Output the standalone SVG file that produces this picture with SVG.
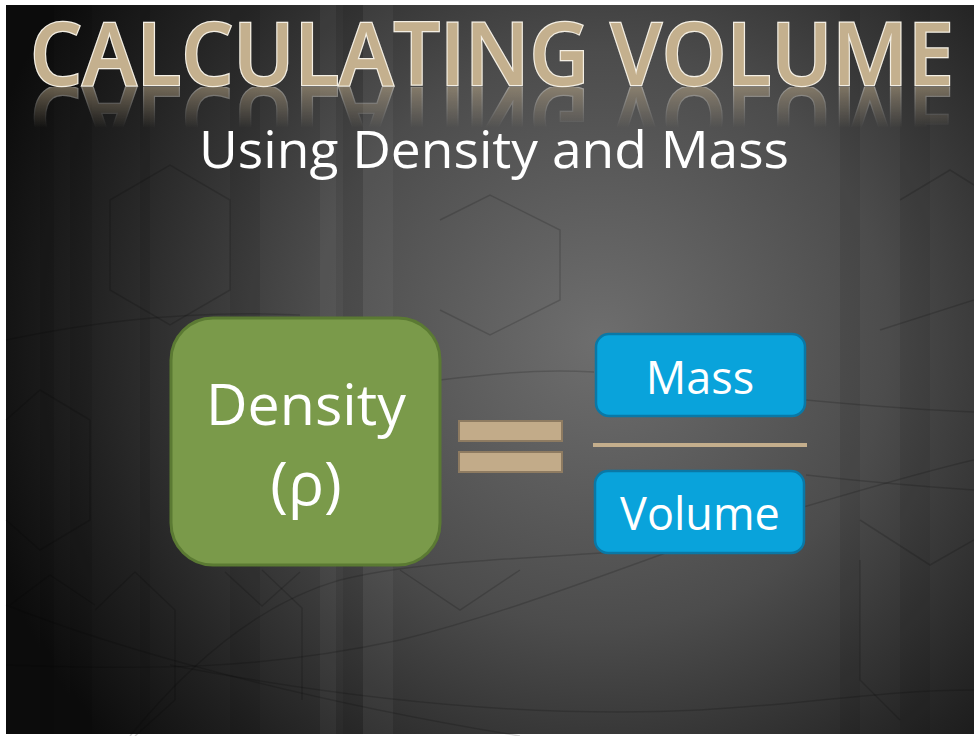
<svg xmlns="http://www.w3.org/2000/svg" width="974" height="736" viewBox="0 0 974 736">
<defs>
<radialGradient id="bg" cx="600" cy="340" r="640" gradientUnits="userSpaceOnUse">
<stop offset="0" stop-color="#6e6e6e"/>
<stop offset="0.45" stop-color="#4c4c4c"/>
<stop offset="0.8" stop-color="#222"/>
<stop offset="1" stop-color="#0c0c0c"/>
</radialGradient>
<linearGradient id="refl" x1="0" y1="86" x2="0" y2="128" gradientUnits="userSpaceOnUse">
<stop offset="0" stop-color="#fff" stop-opacity="0.5"/>
<stop offset="1" stop-color="#fff" stop-opacity="0"/>
</linearGradient>
<mask id="rm"><rect x="0" y="87" width="974" height="42" fill="url(#refl)"/></mask>
<style>
.deco{fill:none;stroke:#000;stroke-opacity:0.16;stroke-width:1.5}
.stripe{fill:#000;opacity:0.08}
.title{font-family:"Open Sans","Liberation Sans",sans-serif;font-weight:600;font-size:86px;fill:#c4b08e;stroke:#f4efe4;stroke-width:2.5;paint-order:stroke}
.w{font-family:"Open Sans","Liberation Sans",sans-serif;fill:#fff;text-anchor:middle}
.bar{fill:#c2ab89;stroke:#8e7b61;stroke-width:2}
.blue{fill:#09a3db;stroke:#0a78a6;stroke-width:2.5}
</style>
</defs>
<rect x="0" y="0" width="974" height="736" fill="#fff"/>
<g id="background">
<rect x="6" y="5" width="968" height="729" fill="url(#bg)"/>
<rect class="stripe" x="40" y="5" width="14" height="729"/>
<rect class="stripe" x="70" y="5" width="22" height="729"/>
<rect class="stripe" x="140" y="5" width="10" height="729"/>
<rect class="stripe" x="230" y="5" width="30" height="729"/>
<rect x="320" y="5" width="16" height="729" fill="#fff" opacity="0.04"/>
<rect x="343" y="5" width="20" height="729" fill="#000" opacity="0.07"/>
<rect x="363" y="5" width="30" height="729" fill="#fff" opacity="0.04"/>
<rect class="stripe" x="840" y="5" width="20" height="729"/>
<rect class="stripe" x="900" y="5" width="30" height="729"/>
<path class="deco" d="M10 605 L50 575 L95 605"/>
<path class="deco" d="M95 610 L135 572 L175 610 L175 700 L135 736"/>
<path class="deco" d="M225 572 L262 606 L300 572"/>
<path class="deco" d="M262 570 L302 608 L302 700"/>
<path class="deco" d="M6 605 C120 650 300 700 520 736"/>
<path class="deco" d="M6 665 C150 670 260 670 400 640 C520 610 640 560 760 520 C860 490 930 470 974 460"/>
<path class="deco" d="M130 736 C200 650 270 600 340 580 C420 560 520 560 640 550"/>
<path class="deco" d="M170 665 C300 690 500 720 700 710 C800 705 880 690 974 690"/>
<path class="deco" d="M400 570 L460 610 L520 570"/>
<path class="deco" d="M860 520 L930 565 L974 540"/>
<path class="deco" d="M860 560 L860 680 L900 720"/>
<path class="deco" d="M440 220 L490 195 L560 230 L560 300 L490 335 L440 310"/>
<path class="deco" d="M110 200 L170 165 L230 200 L230 290 L170 325 L110 290 Z"/>
<path class="deco" d="M900 200 L950 170 L974 185"/>
<path class="deco" d="M880 330 L974 300"/>
<path class="deco" d="M6 340 C100 320 200 310 300 315"/>
<path class="deco" d="M440 380 C520 370 560 370 594 372"/>
<path class="deco" d="M806 400 C860 405 920 410 974 412"/>
<path class="deco" d="M806 475 C850 480 900 485 974 490"/>
<path class="deco" d="M6 420 L40 390 L90 420 L90 520 L40 550 L6 520"/>
</g>
<g id="title">
<text class="title" x="492" y="85" text-anchor="middle" textLength="924" lengthAdjust="spacingAndGlyphs">CALCULATING VOLUME</text>
<g mask="url(#rm)">
<text class="title" x="492" y="85" text-anchor="middle" textLength="924" lengthAdjust="spacingAndGlyphs" transform="translate(0,172) scale(1,-1)">CALCULATING VOLUME</text>
</g>
</g>
<g id="subtitle">
<text class="w" x="494" y="168" font-size="52" textLength="590" lengthAdjust="spacingAndGlyphs">Using Density and Mass</text>
</g>
<g id="density">
<rect x="171" y="318" width="269" height="247" rx="42" fill="#7a9a4a" stroke="#5b7a33" stroke-width="3"/>
<text class="w" x="306" y="425" font-size="57" textLength="200" lengthAdjust="spacingAndGlyphs">Density</text>
<text class="w" x="306" y="505" font-size="60">(ρ)</text>
</g>
<g id="equals">
<rect class="bar" x="459" y="421" width="103" height="20"/>
<rect class="bar" x="459" y="452" width="103" height="20"/>
</g>
<g id="mass">
<rect class="blue" x="596" y="334" width="209" height="82" rx="13"/>
<text class="w" x="700" y="394" font-size="45">Mass</text>
</g>
<g id="fraction-line">
<rect x="593" y="443" width="214" height="4" fill="#c4ae8c"/>
</g>
<g id="volume">
<rect class="blue" x="595" y="471" width="209" height="82" rx="13"/>
<text class="w" x="700" y="530" font-size="45">Volume</text>
</g>
</svg>
